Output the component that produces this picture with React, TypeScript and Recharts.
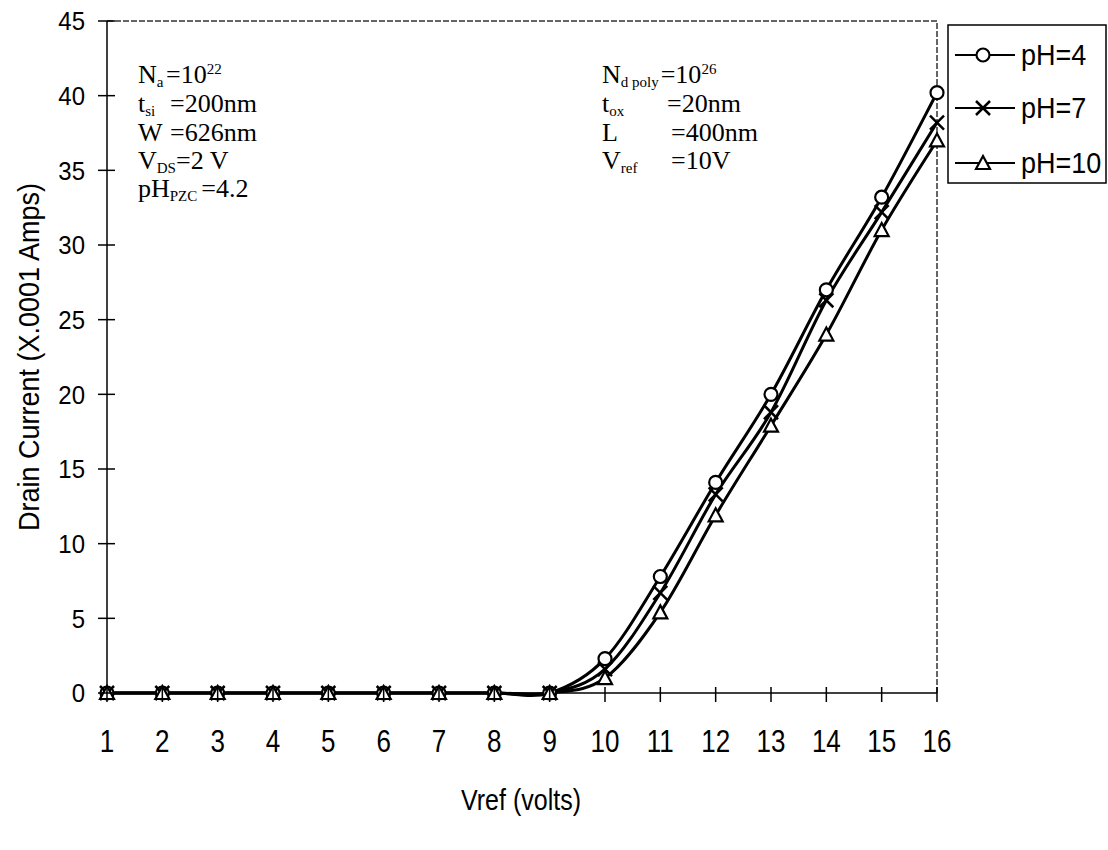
import React from "react";
import {
  LineChart,
  Line,
  XAxis,
  YAxis,
  ReferenceLine,
  Legend,
  Customized,
} from "recharts";

// ---- data ----
const VREF = [1, 2, 3, 4, 5, 6, 7, 8, 9, 10, 11, 12, 13, 14, 15, 16];
const PH4 = [0, 0, 0, 0, 0, 0, 0, 0, 0, 2.3, 7.8, 14.1, 20.0, 27.0, 33.2, 40.2];
const PH7 = [0, 0, 0, 0, 0, 0, 0, 0, 0, 1.6, 6.7, 13.3, 18.8, 26.3, 32.2, 38.2];
const PH10 = [0, 0, 0, 0, 0, 0, 0, 0, 0, 1.0, 5.4, 11.9, 17.9, 24.0, 31.0, 37.0];
const Y_TICKS = [0, 5, 10, 15, 20, 25, 30, 35, 40, 45];
const SERIES_NAMES = ["pH=4", "pH=7", "pH=10"];
const X_LABEL = "Vref (volts)";
const Y_LABEL = "Drain Current (X.0001 Amps)";

const data = VREF.map((v, i) => ({ v, ph4: PH4[i], ph7: PH7[i], ph10: PH10[i] }));

const SANS = '"Liberation Sans", Arial, sans-serif';
const SERIF = '"Liberation Serif", "Times New Roman", serif';

// Excel-like smoothed line (Catmull-Rom through bezier)
function excelSmooth(context: any) {
  let pts: number[][] = [];
  return {
    areaStart() {},
    areaEnd() {},
    lineStart() {
      pts = [];
    },
    point(x: number, y: number) {
      pts.push([+x, +y]);
    },
    lineEnd() {
      const n = pts.length;
      if (!n) return;
      context.moveTo(pts[0][0], pts[0][1]);
      const t = 1 / 6;
      for (let i = 0; i < n - 1; i++) {
        const p0 = pts[Math.max(0, i - 1)];
        const p1 = pts[i];
        const p2 = pts[i + 1];
        const p3 = pts[Math.min(n - 1, i + 2)];
        context.bezierCurveTo(
          p1[0] + (p2[0] - p0[0]) * t,
          p1[1] + (p2[1] - p0[1]) * t,
          p2[0] - (p3[0] - p1[0]) * t,
          p2[1] - (p3[1] - p1[1]) * t,
          p2[0],
          p2[1]
        );
      }
    },
  };
}

const CircleMark = ({ cx, cy }: any) => (
  <circle cx={cx} cy={cy} r={6.5} fill="#fff" stroke="#000" strokeWidth={2.2} />
);
const CrossMark = ({ cx, cy }: any) => (
  <g stroke="#000" strokeWidth={2.5}>
    <line x1={cx - 7} y1={cy - 7} x2={cx + 7} y2={cy + 7} />
    <line x1={cx - 7} y1={cy + 7} x2={cx + 7} y2={cy - 7} />
  </g>
);
const TriMark = ({ cx, cy }: any) => (
  <polygon
    points={`${cx},${cy - 7} ${cx + 7},${cy + 6} ${cx - 7},${cy + 6}`}
    fill="#fff"
    stroke="#000"
    strokeWidth={2.2}
  />
);
const MARKS = [CircleMark, CrossMark, TriMark];

const dotFor = (Mark: any) => (props: any) => {
  if (props.cx == null || props.cy == null) return <g key={`k-${props.index}`} />;
  return (
    <g key={`d-${props.dataKey}-${props.index}`}>
      <Mark cx={props.cx} cy={props.cy} />
    </g>
  );
};

const XTick = ({ x, y, payload }: any) => (
  <g>
    <line x1={x} y1={y - 6} x2={x} y2={y + 9} stroke="#000" strokeWidth={1.5} />
    <g transform={`translate(${x},${y + 48}) scale(1,1.22)`}>
      <text
        x={0}
        y={0}
        textAnchor="middle"
        dominantBaseline="central"
        fontFamily={SANS}
        fontSize={26}
        fill="#000"
      >
        {payload.value}
      </text>
    </g>
  </g>
);

const YTick = ({ x, y, payload }: any) => (
  <g>
    <line x1={x - 9} y1={y} x2={x + 8} y2={y} stroke="#000" strokeWidth={1.5} />
    <g transform={`translate(${x - 22},${y}) scale(1,1.1)`}>
      <text
        x={0}
        y={0}
        textAnchor="end"
        dominantBaseline="central"
        fontFamily={SANS}
        fontSize={24}
        fill="#000"
      >
        {payload.value}
      </text>
    </g>
  </g>
);

const LegendBox = () => (
  <svg width={162} height={162} style={{ display: "block" }}>
    <rect x={1} y={1} width={158} height={158} fill="#fff" stroke="#000" strokeWidth={1.5} />
    {SERIES_NAMES.map((name, i) => {
      const cy = [31, 84, 139][i];
      const Mark = MARKS[i];
      return (
        <g key={name}>
          <line x1={8} y1={cy} x2={68} y2={cy} stroke="#000" strokeWidth={2} />
          <Mark cx={36} cy={cy} />
          <g transform={`translate(74,${cy}) scale(1,1.1)`}>
            <text x={0} y={0} dominantBaseline="central" fontFamily={SANS} fontSize={27} fill="#000">
              {name}
            </text>
          </g>
        </g>
      );
    })}
  </svg>
);

const SUB = 15;
const SD = 4;
const Annotations = () => (
  <g fontFamily={SERIF} fontSize={26} fill="#000">
    {/* left block */}
    <text x={138} y={83}>
      N<tspan dy={SD} fontSize={SUB}>a</tspan>
      <tspan x={166} dy={-SD}>=10</tspan>
      <tspan dy={-9} fontSize={SUB}>22</tspan>
    </text>
    <text x={138} y={112}>
      t<tspan dy={SD} fontSize={SUB}>si</tspan>
      <tspan x={170} dy={-SD}>=200nm</tspan>
    </text>
    <text x={138} y={141}>
      W<tspan x={170}>=626nm</tspan>
    </text>
    <text x={138} y={169}>
      V<tspan dy={SD} fontSize={SUB}>DS</tspan>
      <tspan dy={-SD}>=2 V</tspan>
    </text>
    <text x={138} y={197}>
      pH<tspan dy={SD} fontSize={SUB}>PZC</tspan>
      <tspan dx={4} dy={-SD}>=4.2</tspan>
    </text>
    {/* right block */}
    <text x={602} y={83}>
      N<tspan dy={SD} fontSize={SUB}>d poly</tspan>
      <tspan dx={2} dy={-SD}>=10</tspan>
      <tspan dy={-9} fontSize={SUB}>26</tspan>
    </text>
    <text x={602} y={112}>
      t<tspan dy={SD} fontSize={SUB}>ox</tspan>
      <tspan x={667} dy={-SD}>=20nm</tspan>
    </text>
    <text x={602} y={141}>
      L<tspan x={671}>=400nm</tspan>
    </text>
    <text x={602} y={169}>
      V<tspan dy={SD} fontSize={SUB}>ref</tspan>
      <tspan x={671} dy={-SD}>=10V</tspan>
    </text>
    {/* axis titles */}
    <g transform="translate(521,800) scale(1,1.15)">
      <text x={0} y={0} textAnchor="middle" dominantBaseline="central" fontFamily={SANS} fontSize={25}>
        {X_LABEL}
      </text>
    </g>
    <g transform="translate(28,357) rotate(-90) scale(1,1.12)">
      <text x={0} y={0} textAnchor="middle" dominantBaseline="central" fontFamily={SANS} fontSize={27}>
        {Y_LABEL}
      </text>
    </g>
  </g>
);

export default function App() {
  return (
    <div style={{ position: "absolute", left: 0, top: 0, width: 1108, height: 850, background: "#fff" }}>
      <LineChart
        width={1108}
        height={850}
        data={data}
        margin={{ top: 21, right: 171, bottom: 97, left: 0 }}
      >
        <XAxis
          dataKey="v"
          type="number"
          domain={[1, 16]}
          ticks={VREF}
          allowDecimals={false}
          height={60}
          axisLine={{ stroke: "#000", strokeWidth: 1.5 }}
          tickLine={false}
          tickSize={0}
          tickMargin={0}
          tick={<XTick />}
          interval={0}
        />
        <YAxis
          type="number"
          domain={[0, 45]}
          ticks={Y_TICKS}
          width={107}
          axisLine={{ stroke: "#000", strokeWidth: 1.5 }}
          tickLine={false}
          tickSize={0}
          tickMargin={0}
          tick={<YTick />}
          interval={0}
        />
        <ReferenceLine y={45} stroke="#333" strokeWidth={1.5} strokeDasharray="6 2" />
        <ReferenceLine x={16} stroke="#333" strokeWidth={1.5} strokeDasharray="6 2" />
        <Line
          dataKey="ph4"
          name={SERIES_NAMES[0]}
          type={excelSmooth as any}
          stroke="#000"
          strokeWidth={3}
          dot={dotFor(CircleMark)}
          isAnimationActive={false}
        />
        <Line
          dataKey="ph7"
          name={SERIES_NAMES[1]}
          type={excelSmooth as any}
          stroke="#000"
          strokeWidth={3}
          dot={dotFor(CrossMark)}
          isAnimationActive={false}
        />
        <Line
          dataKey="ph10"
          name={SERIES_NAMES[2]}
          type={excelSmooth as any}
          stroke="#000"
          strokeWidth={3}
          dot={dotFor(TriMark)}
          isAnimationActive={false}
        />
        <Legend
          layout="horizontal"
          verticalAlign="middle"
          align="center"
          content={() => <LegendBox />}
          wrapperStyle={{ left: 947, top: 24, width: 162, height: 162, margin: 0 }}
        />
        <Customized component={Annotations} />
      </LineChart>
    </div>
  );
}
